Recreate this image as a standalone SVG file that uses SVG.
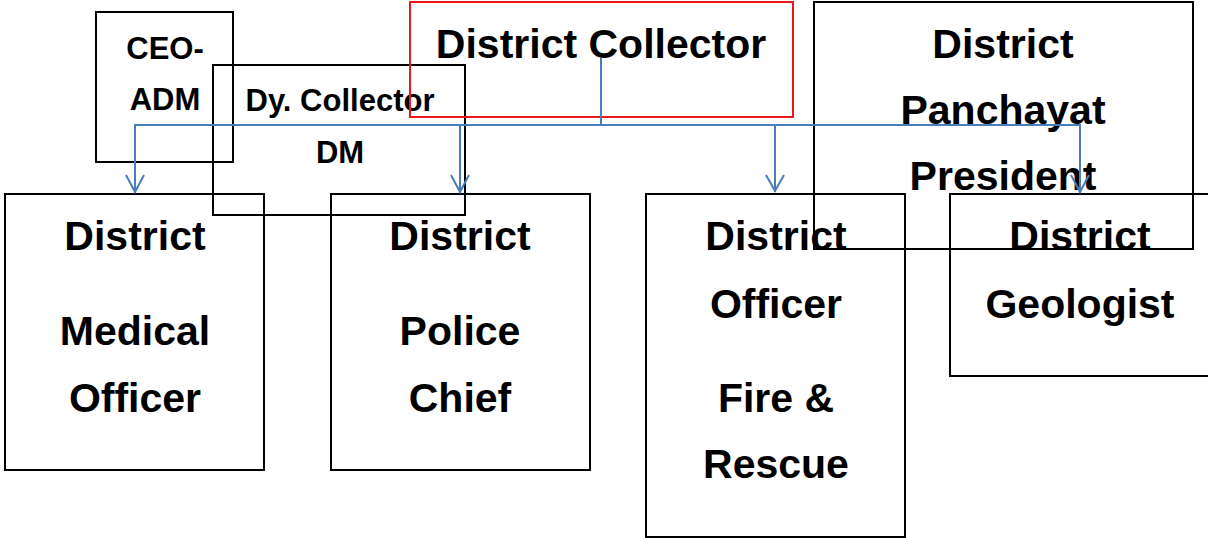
<svg xmlns="http://www.w3.org/2000/svg" width="1208" height="538" viewBox="0 0 1208 538">
<style>
.box{fill:none;stroke:#000;stroke-width:2}
.red{fill:none;stroke:#e8191b;stroke-width:2}
.t{font-family:"Liberation Sans",Arial,sans-serif;font-weight:bold;fill:#000;text-anchor:middle}
.big{font-size:41px}
.sm{font-size:31px}
.c{fill:none;stroke:#4a7ebb;stroke-width:2}
</style>
<rect width="1208" height="538" fill="#fff"/>
<g id="ceo-adm">
<rect class="box" x="96" y="12" width="137" height="150"/>
<text class="t sm" x="165" y="59">CEO-</text>
<text class="t sm" x="165" y="110">ADM</text>
</g>
<g id="dy-collector">
<rect class="box" x="213" y="65" width="252" height="150"/>
<text class="t sm" x="340" y="111">Dy. Collector</text>
<text class="t sm" x="340" y="163">DM</text>
</g>
<g id="district-collector">
<rect class="red" x="410" y="2" width="383" height="115"/>
<text class="t big" x="601" y="58">District Collector</text>
</g>
<g id="panchayat-president">
<rect class="box" x="814" y="2" width="379" height="247"/>
<text class="t big" x="1003" y="58">District</text>
<text class="t big" x="1003" y="124">Panchayat</text>
<text class="t big" x="1003" y="190">President</text>
</g>
<g id="medical-officer">
<rect class="box" x="5" y="194" width="259" height="276"/>
<text class="t big" x="135" y="250">District</text>
<text class="t big" x="135" y="345">Medical</text>
<text class="t big" x="135" y="412">Officer</text>
</g>
<g id="police-chief">
<rect class="box" x="331" y="194" width="259" height="276"/>
<text class="t big" x="460" y="250">District</text>
<text class="t big" x="460" y="345">Police</text>
<text class="t big" x="460" y="412">Chief</text>
</g>
<g id="fire-rescue">
<rect class="box" x="646" y="194" width="259" height="343"/>
<text class="t big" x="776" y="250">District</text>
<text class="t big" x="776" y="318">Officer</text>
<text class="t big" x="776" y="412">Fire &amp;</text>
<text class="t big" x="776" y="478">Rescue</text>
</g>
<g id="geologist">
<rect class="box" x="950" y="194" width="262" height="182"/>
<text class="t big" x="1080" y="250">District</text>
<text class="t big" x="1080" y="318">Geologist</text>
</g>
<g id="connectors">
<path class="c" d="M601,58 V125"/>
<path class="c" d="M135,193 V125 H1080 V193"/>
<path class="c" d="M460,125 V193"/>
<path class="c" d="M775,125 V192"/>
<path class="c" d="M126,175 L135,192 L144,175"/>
<path class="c" d="M451,175 L460,192 L469,175"/>
<path class="c" d="M766,175 L775,191 L784,175"/>
<path class="c" d="M1071,175 L1080,192 L1089,175"/>
</g>
</svg>
